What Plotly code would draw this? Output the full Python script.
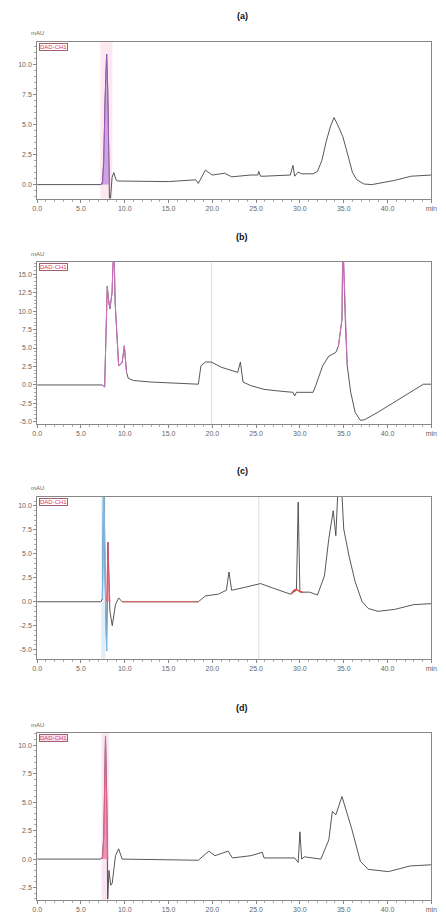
import plotly.graph_objects as go

# ---------------- data (time in min, signal in display units) ----------------
a_t = [0, 7.3, 7.45, 7.6, 7.75, 7.93, 8.05, 8.15, 8.25, 8.35, 8.45, 8.55, 8.75, 9.0, 9.2, 9.5, 10.5, 15.0,
       18.1, 18.4, 19.2, 20.0, 21.4, 22.2, 24.4, 25.2, 25.3, 25.5, 25.9, 28.9, 29.2, 29.4, 29.8, 30.2, 31.5,
       32.0, 32.5, 33.0, 33.5, 33.9, 34.3, 34.9, 35.5, 36.0, 36.5, 37.3, 38.2, 39.5, 40.8, 42.7, 45.0]
a_y = [0.0, 0.0, 0.2, 2.0, 7.0, 10.9, 8.0, 3.0, -1.3, -1.3, 0.2, 0.6, 1.0, 0.4, 0.3, 0.3, 0.25, 0.25,
       0.4, 0.1, 1.2, 0.8, 0.95, 0.65, 0.8, 0.8, 1.1, 0.7, 0.7, 0.8, 1.6, 0.7, 1.05, 0.9, 0.9,
       1.1, 2.0, 3.6, 4.9, 5.6, 5.0, 4.0, 2.4, 1.0, 0.4, 0.05, 0.0, 0.15, 0.35, 0.7, 0.8]
a_pk_t = [7.45, 7.6, 7.75, 7.93, 8.05, 8.15, 8.25]
a_pk_y = [0.0, 2.0, 7.0, 10.9, 8.0, 3.0, 0.0]

b_t = [0, 7.45, 7.7, 8.0, 8.15, 8.3, 8.55, 8.75, 8.9, 9.1, 9.3, 9.7, 9.95, 10.2, 10.4, 11.0, 12.9, 18.4,
       18.7, 19.2, 19.9, 21.0, 22.2, 22.9, 23.2, 23.5, 24.4, 25.9, 27.4, 29.2, 29.4, 29.6, 31.5, 31.8,
       32.6, 33.3, 34.1, 34.4, 34.8, 34.9, 35.2, 35.4, 35.8, 36.3, 36.9, 37.4, 38.9, 40.8, 42.6, 44.1, 45.0]
b_y = [0.0, 0.0, -0.3, 13.4, 11.5, 10.3, 12.5, 20.0, 11.2, 6.0, 2.6, 3.0, 5.3, 1.7, 0.9, 0.6, 0.4, 0.1,
       2.6, 3.1, 3.1, 2.4, 1.9, 1.7, 3.1, 0.4, -0.1, -0.6, -0.8, -1.0, -1.5, -1.0, -1.0, -0.1,
       2.6, 3.9, 4.4, 5.3, 8.9, 20.0, 8.0, 2.6, -1.0, -3.7, -4.8, -4.7, -3.7, -2.3, -1.0, 0.1, 0.1]
b_pk_t = [7.7, 8.0, 8.15, 8.3, 8.55, 8.75, 8.9, 9.1, 9.3, 9.7, 9.95, 10.2]
b_pk_y = [-0.3, 13.4, 11.5, 10.3, 12.5, 20.0, 11.2, 6.0, 2.6, 3.0, 5.3, 1.7]
b_pk2_t = [34.4, 34.8, 34.9, 35.2, 35.4]
b_pk2_y = [5.3, 8.9, 20.0, 8.0, 2.6]

c_t = [0, 7.26, 7.45, 7.6, 7.75, 7.93, 8.08, 8.3, 8.57, 8.94, 9.3, 9.7, 18.4, 19.2, 20.7, 21.6, 21.9,
       22.2, 23.7, 25.5, 27.0, 28.9, 29.6, 29.8, 30.0, 31.1, 32.0, 32.8, 33.3, 33.8, 34.1, 34.4, 34.7,
       35.0, 35.6, 36.3, 37.1, 37.8, 38.9, 40.8, 43.0, 45.0]
c_y = [0.0, 0.0, 0.3, 14.0, 3.0, -5.1, 6.2, -1.0, -2.5, -0.3, 0.4, 0.0, 0.0, 0.6, 0.8, 1.2, 3.1,
       1.2, 1.5, 1.9, 1.4, 0.8, 1.2, 10.4, 1.0, 1.0, 0.7, 2.7, 6.6, 9.5, 6.9, 13.0, 13.0,
       7.6, 4.8, 2.1, 0.0, -0.7, -1.0, -0.8, -0.3, -0.2]
c_blue_t = [7.45, 7.6, 7.75, 7.93]
c_blue_y = [0.3, 14.0, 3.0, -5.1]
c_pk_t = [7.93, 8.0, 8.08, 8.2, 8.3]
c_pk_y = [0.0, 3.0, 6.2, 2.0, 0.0]
c_red_t = [9.7, 12.0, 15.0, 18.4]
c_red_y = [0.0, 0.0, 0.0, 0.0]
c_red2_t = [29.0, 29.3, 29.6, 29.9, 30.3]
c_red2_y = [0.8, 1.2, 1.3, 1.1, 1.0]

d_t = [0, 7.26, 7.45, 7.6, 7.8, 7.95, 8.05, 8.2, 8.4, 8.57, 8.94, 9.3, 9.7, 18.4, 19.6, 20.3, 21.8,
       22.3, 24.4, 25.7, 25.9, 29.4, 29.8, 30.0, 30.2, 30.5, 32.4, 33.3, 33.7, 34.1, 34.8, 35.9, 36.9,
       37.8, 40.1, 42.6, 45.0]
d_y = [0.0, 0.0, 0.2, 2.0, 10.8, 5.0, -3.5, -1.0, -2.3, -2.1, 0.3, 0.9, 0.0, -0.1, 0.7, 0.3, 0.7,
       0.1, 0.3, 0.6, 0.1, 0.1, -0.3, 2.4, 0.0, 0.2, 0.0, 1.7, 4.2, 3.9, 5.5, 2.7, -0.2,
       -0.9, -1.1, -0.6, -0.5]
d_pk_t = [7.45, 7.6, 7.8, 7.95, 8.05]
d_pk_y = [0.0, 2.0, 10.8, 5.0, 0.0]

x_tickvals = [0, 5, 10, 15, 20, 25, 30, 35, 40, 45]
x_ticktext = ["0.0", "5.0", "10.0", "15.0", "20.0", "25.0", "30.0", "35.0", "40.0", "min"]

panels = [
    dict(name="(a)", dom=[0.782, 0.954], rng=[-1.17, 11.92], ticks=[0, 2.5, 5, 7.5, 10], tag="DAD-CH1",
         band=[7.2, 8.6], bandcolor="rgba(245,190,215,0.35)"),
    dict(name="(b)", dom=[0.5345, 0.712], rng=[-5.3, 16.6], ticks=[-5, -2.5, 0, 2.5, 5, 7.5, 10, 12.5, 15], tag="DAD-CH1",
         band=None, bandcolor=None),
    dict(name="(c)", dom=[0.277, 0.4545], rng=[-5.94, 10.94], ticks=[-5, -2.5, 0, 2.5, 5, 7.5, 10], tag="DAD-CH1",
         band=[7.3, 7.8], bandcolor="rgba(170,210,240,0.35)"),
    dict(name="(d)", dom=[0.012, 0.195], rng=[-3.6, 11.05], ticks=[-2.5, 0, 2.5, 5, 7.5, 10], tag="DAD-CH1",
         band=[7.35, 8.2], bandcolor="rgba(240,180,220,0.35)"),
]

fig = go.Figure()
GREY = "#444444"

def add(t, y, i, color=GREY, width=0.9, fill=None, fillcolor=None):
    fig.add_trace(go.Scatter(x=t, y=y, mode="lines", line=dict(color=color, width=width),
                             fill=fill, fillcolor=fillcolor, hoverinfo="skip",
                             xaxis="x" if i == 0 else f"x{i+1}", yaxis="y" if i == 0 else f"y{i+1}"))

# panel a
add(a_t, a_y, 0)
add(a_pk_t, a_pk_y, 0, color="#9b59b6", fill="tozeroy", fillcolor="rgba(190,140,220,0.75)")
# panel b
add(b_t, b_y, 1)
add(b_pk_t, b_pk_y, 1, color="#d070c0", width=1.0)
add(b_pk2_t, b_pk2_y, 1, color="#d070c0", width=1.0)
# panel c
add(c_t, c_y, 2)
add(c_blue_t, c_blue_y, 2, color="#7ab8e8", width=1.2)
add(c_pk_t, c_pk_y, 2, color="#e05070", fill="tozeroy", fillcolor="rgba(240,120,140,0.7)")
add(c_red_t, c_red_y, 2, color="#e06060", width=1.0)
add(c_red2_t, c_red2_y, 2, color="#e04040", width=1.4)
# panel d
add(d_t, d_y, 3)
add(d_pk_t, d_pk_y, 3, color="#e0608a", fill="tozeroy", fillcolor="rgba(235,120,160,0.75)")

layout = dict(width=446, height=913, margin=dict(l=0, r=0, t=0, b=0),
              paper_bgcolor="white", plot_bgcolor="white", showlegend=False,
              font=dict(family="Liberation Sans, Arial, sans-serif", size=7, color="#666666"))
annotations = []
shapes = []
for i, p in enumerate(panels):
    xs = "xaxis" if i == 0 else f"xaxis{i+1}"
    ys = "yaxis" if i == 0 else f"yaxis{i+1}"
    xr = "x" if i == 0 else f"x{i+1}"
    yr = "y" if i == 0 else f"y{i+1}"
    layout[xs] = dict(domain=[0.074, 0.980], range=[0, 45], anchor=yr, tickvals=x_tickvals,
                      ticktext=x_ticktext, showline=True, linecolor="#888888", linewidth=1, mirror=True,
                      ticks="outside", ticklen=3, tickcolor="#888888", showgrid=False, zeroline=False,
                      tickfont=dict(size=7, color="#666666"),
                      minor=dict(dtick=1, ticks="outside", ticklen=2, tickcolor="#aaaaaa"))
    layout[ys] = dict(domain=p["dom"], range=p["rng"], anchor=xr, tickvals=p["ticks"],
                      ticktext=[f"{v:.1f}" for v in p["ticks"]], showline=True, linecolor="#888888",
                      linewidth=1, mirror=True, ticks="outside", ticklen=3, tickcolor="#888888",
                      showgrid=False, zeroline=False, tickfont=dict(size=7, color="#666666"),
                      minor=dict(dtick=0.5, ticks="outside", ticklen=2, tickcolor="#aaaaaa"))
    top = p["dom"][1]
    annotations.append(dict(text=f"<b>{p['name']}</b>", x=0.545, y=top + 0.028, xref="paper", yref="paper",
                            showarrow=False, font=dict(size=9, color="#111111"), xanchor="center", yanchor="middle"))
    annotations.append(dict(text="mAU", x=0.074, y=top + 0.004, xref="paper", yref="paper",
                            showarrow=False, font=dict(size=6, color="#666666"), xanchor="center", yanchor="bottom"))
    annotations.append(dict(text=p["tag"], x=0.078, y=top - 0.001, xref="paper", yref="paper",
                            showarrow=False, font=dict(size=6, color="#d04060"), xanchor="left", yanchor="top",
                            bordercolor="#a06070", borderwidth=1, borderpad=0,
                            bgcolor="rgba(240,200,230,0.6)" if i == 3 else "rgba(255,255,255,0.8)"))
    if p["band"]:
        shapes.append(dict(type="rect", xref=xr, yref=f"{yr} domain", x0=p["band"][0], x1=p["band"][1],
                           y0=0, y1=1, fillcolor=p["bandcolor"], line=dict(width=0), layer="below"))

# faint vertical marker lines
shapes.append(dict(type="line", xref="x2", yref="y2 domain", x0=19.9, x1=19.9, y0=0, y1=1,
                   line=dict(color="#dddddd", width=1), layer="below"))
shapes.append(dict(type="line", xref="x3", yref="y3 domain", x0=25.3, x1=25.3, y0=0, y1=1,
                   line=dict(color="#dddddd", width=1), layer="below"))
layout["annotations"] = annotations
layout["shapes"] = shapes
fig.update_layout(**layout)
fig.write_html("out.html")
